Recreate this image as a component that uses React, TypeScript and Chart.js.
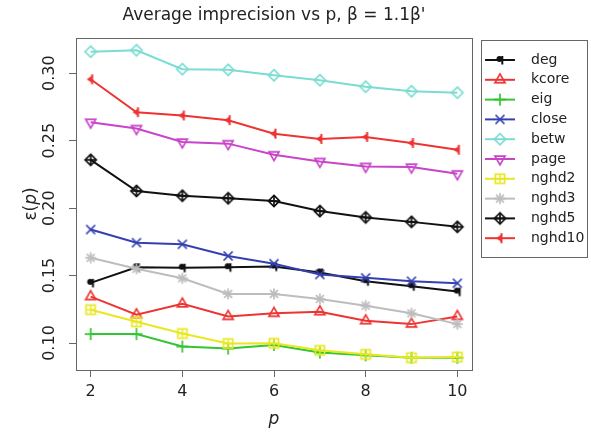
import React, { useEffect, useRef } from "react";
import { Chart, registerables } from "chart.js";

Chart.register(...registerables);

// ---------------- data ----------------
const P_VALUES = [2, 3, 4, 5, 6, 7, 8, 9, 10];
const X_TICKS = [2, 4, 6, 8, 10];
const Y_TICKS = [0.1, 0.15, 0.2, 0.25, 0.3];

const SERIES_NAMES = ["deg", "kcore", "eig", "close", "betw", "page", "nghd2", "nghd3", "nghd5", "nghd10"];

const DEG = [0.1446, 0.1562, 0.1558, 0.1562, 0.1567, 0.1523, 0.1458, 0.1421, 0.1381];
const KCORE = [0.1344, 0.121, 0.129, 0.1197, 0.122, 0.1232, 0.1165, 0.114, 0.1197];
const EIG = [0.1066, 0.1066, 0.0974, 0.0959, 0.0986, 0.0929, 0.0909, 0.0891, 0.0891];
const CLOSE = [0.1841, 0.1744, 0.1732, 0.1645, 0.1588, 0.1508, 0.1483, 0.1458, 0.1443];
const BETW = [0.316, 0.317, 0.303, 0.3025, 0.2985, 0.2948, 0.29, 0.2866, 0.2856];
const PAGE = [0.2637, 0.259, 0.249, 0.2478, 0.2396, 0.2346, 0.2309, 0.2304, 0.2254];
const NGHD2 = [0.1247, 0.1157, 0.107, 0.0996, 0.0998, 0.0946, 0.0916, 0.0891, 0.0896];
const NGHD3 = [0.1632, 0.155, 0.148, 0.1364, 0.1364, 0.1327, 0.1277, 0.122, 0.114];
const NGHD5 = [0.2358, 0.2127, 0.2092, 0.2073, 0.2053, 0.1978, 0.1931, 0.1898, 0.1861];
const NGHD10 = [0.2955, 0.2711, 0.2687, 0.2652, 0.2552, 0.2513, 0.2528, 0.2483, 0.2433];

const SERIES_VALUES = [DEG, KCORE, EIG, CLOSE, BETW, PAGE, NGHD2, NGHD3, NGHD5, NGHD10];

// ---------------- styles ----------------
const COLORS = ["#111111", "#EE3333", "#33C633", "#3440B2", "#7ADCD2", "#C844C8", "#E8E822", "#BDBDBD", "#111111", "#EE3333"];
const MARKERS = ["q", "triUp", "plus", "cross", "diamond", "triDown", "squarePlus", "asterisk", "diamondPlus", "leftTri"];

const FONT = '"DejaVu Sans", "Liberation Sans", sans-serif';
const TITLE = "Average imprecision vs p, \u03B2 = 1.1\u03B2'";

function makeMarker(kind: string, color: string): HTMLCanvasElement {
  const s = 16;
  const c = s / 2;
  const cv = document.createElement("canvas");
  cv.width = s;
  cv.height = s;
  const g = cv.getContext("2d")!;
  g.strokeStyle = color;
  g.fillStyle = color;
  g.lineWidth = 1.7;
  const line = (x1: number, y1: number, x2: number, y2: number) => {
    g.beginPath();
    g.moveTo(x1, y1);
    g.lineTo(x2, y2);
    g.stroke();
  };
  switch (kind) {
    case "q": {
      g.beginPath();
      g.arc(c - 0.5, c - 1, 3, 0, Math.PI * 2);
      g.fill();
      g.lineWidth = 2;
      line(c + 2.3, c - 4, c + 2.3, c + 4.5);
      break;
    }
    case "triUp": {
      const r = 5.8;
      g.beginPath();
      g.moveTo(c, c - r);
      g.lineTo(c + r * 0.866, c + r * 0.5);
      g.lineTo(c - r * 0.866, c + r * 0.5);
      g.closePath();
      g.stroke();
      break;
    }
    case "triDown": {
      const r = 5.8;
      g.beginPath();
      g.moveTo(c, c + r);
      g.lineTo(c + r * 0.866, c - r * 0.5);
      g.lineTo(c - r * 0.866, c - r * 0.5);
      g.closePath();
      g.stroke();
      break;
    }
    case "plus": {
      const r = 6;
      line(c - r, c, c + r, c);
      line(c, c - r, c, c + r);
      break;
    }
    case "cross": {
      const r = 4.5;
      line(c - r, c - r, c + r, c + r);
      line(c - r, c + r, c + r, c - r);
      break;
    }
    case "diamond": {
      const r = 5.6;
      g.beginPath();
      g.moveTo(c, c - r);
      g.lineTo(c + r, c);
      g.lineTo(c, c + r);
      g.lineTo(c - r, c);
      g.closePath();
      g.stroke();
      break;
    }
    case "diamondPlus": {
      const r = 5.6;
      g.beginPath();
      g.moveTo(c, c - r);
      g.lineTo(c + r, c);
      g.lineTo(c, c + r);
      g.lineTo(c - r, c);
      g.closePath();
      g.stroke();
      line(c - r, c, c + r, c);
      line(c, c - r, c, c + r);
      break;
    }
    case "squarePlus": {
      const h = 4.6;
      g.strokeRect(c - h, c - h, 2 * h, 2 * h);
      g.lineWidth = 1.4;
      line(c - h, c, c + h, c);
      line(c, c - h, c, c + h);
      break;
    }
    case "asterisk": {
      const r = 5.5;
      const d = r * 0.72;
      line(c - r, c, c + r, c);
      line(c, c - r, c, c + r);
      line(c - d, c - d, c + d, c + d);
      line(c - d, c + d, c + d, c - d);
      break;
    }
    case "leftTri": {
      g.beginPath();
      g.moveTo(c - 4, c);
      g.lineTo(c + 2, c - 4);
      g.lineTo(c + 2, c + 4);
      g.closePath();
      g.fill();
      g.lineWidth = 2;
      line(c + 1.5, c - 5, c + 1.5, c + 5);
      break;
    }
  }
  return cv;
}

// R-style 4% range extension
function extendRange(values: number[]): [number, number] {
  const lo = Math.min(...values);
  const hi = Math.max(...values);
  const pad = (hi - lo) * 0.04;
  return [lo - pad, hi + pad];
}

export default function App() {
  const canvasRef = useRef<HTMLCanvasElement | null>(null);

  useEffect(() => {
    const canvas = canvasRef.current;
    if (!canvas) return;
    const markers = SERIES_NAMES.map((_, i) => makeMarker(MARKERS[i], COLORS[i]));
    const [xMin, xMax] = extendRange(P_VALUES);
    const [yMin, yMax] = extendRange(SERIES_VALUES.flat());

    const decorPlugin = {
      id: "decor",
      afterDraw(chart: any) {
        const ctx = chart.ctx as CanvasRenderingContext2D;
        const area = chart.chartArea;
        const yScale = chart.scales.y;
        ctx.save();
        // plot box
        ctx.strokeStyle = "#666";
        ctx.lineWidth = 1;
        ctx.strokeRect(Math.round(area.left) + 0.5, Math.round(area.top) + 0.5, Math.round(area.right - area.left), Math.round(area.bottom - area.top));

        // title
        ctx.fillStyle = "#222";
        ctx.font = `17px ${FONT}`;
        ctx.textAlign = "center";
        ctx.textBaseline = "middle";
        ctx.fillText(TITLE, (area.left + area.right) / 2, 16);

        // y tick labels (rotated, R style)
        ctx.font = `16px ${FONT}`;
        Y_TICKS.forEach((v) => {
          const py = yScale.getPixelForValue(v);
          ctx.save();
          ctx.translate(50, py);
          ctx.rotate(-Math.PI / 2);
          ctx.textAlign = "center";
          ctx.textBaseline = "middle";
          ctx.fillText(v.toFixed(2), 0, 0);
          ctx.restore();
        });

        // x axis title (italic p)
        ctx.font = `italic 17px ${FONT}`;
        ctx.textAlign = "center";
        ctx.textBaseline = "middle";
        ctx.fillText("p", (area.left + area.right) / 2, 420);

        // y axis title  ε(p)
        ctx.save();
        ctx.translate(32, (area.top + area.bottom) / 2);
        ctx.rotate(-Math.PI / 2);
        ctx.textBaseline = "middle";
        ctx.textAlign = "left";
        const parts: [string, string][] = [
          ["\u03B5(", `17px ${FONT}`],
          ["p", `italic 17px ${FONT}`],
          [")", `17px ${FONT}`],
        ];
        let total = 0;
        parts.forEach(([t, f]) => {
          ctx.font = f;
          total += ctx.measureText(t).width;
        });
        let xx = -total / 2;
        parts.forEach(([t, f]) => {
          ctx.font = f;
          ctx.fillText(t, xx, 0);
          xx += ctx.measureText(t).width;
        });
        ctx.restore();

        // legend
        const lx = 481.5, ly = 40.5, lw = 106, lh = 217;
        ctx.strokeStyle = "#666";
        ctx.lineWidth = 1;
        ctx.strokeRect(lx, ly, lw, lh);
        ctx.font = `14px ${FONT}`;
        ctx.textAlign = "left";
        ctx.textBaseline = "middle";
        SERIES_NAMES.forEach((name, i) => {
          const y = 60 + i * 19.8;
          ctx.strokeStyle = COLORS[i];
          ctx.lineWidth = 2;
          ctx.beginPath();
          ctx.moveTo(485, y);
          ctx.lineTo(515, y);
          ctx.stroke();
          const m = markers[i];
          ctx.drawImage(m, 500 - m.width / 2, y - m.height / 2);
          ctx.fillStyle = "#222";
          ctx.fillText(name, 531, y);
        });
        ctx.restore();
      },
    };

    const chart = new Chart(canvas, {
      type: "line",
      data: {
        datasets: SERIES_NAMES.map((name, i) => ({
          label: name,
          data: P_VALUES.map((p, j) => ({ x: p, y: SERIES_VALUES[i][j] })),
          borderColor: COLORS[i],
          backgroundColor: COLORS[i],
          borderWidth: 2,
          pointStyle: markers[i] as any,
          pointRadius: 5,
          tension: 0,
          fill: false,
          order: SERIES_NAMES.length - i,
        })),
      },
      options: {
        responsive: false,
        animation: false,
        events: [],
        layout: { padding: { left: 0, top: 38, right: 119, bottom: 0 } },
        plugins: {
          legend: { display: false },
          title: { display: false },
          tooltip: { enabled: false },
        },
        scales: {
          x: {
            type: "linear",
            min: xMin,
            max: xMax,
            afterBuildTicks: (s: any) => {
              s.ticks = X_TICKS.map((v) => ({ value: v }));
            },
            afterFit: (s: any) => {
              s.height = 64;
            },
            border: { display: false },
            grid: { drawOnChartArea: false, drawTicks: true, tickLength: 7, color: "#666", lineWidth: 1 },
            ticks: {
              font: { family: FONT, size: 16 },
              color: "#222",
              padding: 5,
              maxRotation: 0,
              autoSkip: false,
              callback: (v: any) => String(v),
            },
          },
          y: {
            type: "linear",
            min: yMin,
            max: yMax,
            afterBuildTicks: (s: any) => {
              s.ticks = Y_TICKS.map((v) => ({ value: v }));
            },
            afterFit: (s: any) => {
              s.width = 76;
            },
            border: { display: false },
            grid: { drawOnChartArea: false, drawTicks: true, tickLength: 7, color: "#666", lineWidth: 1 },
            ticks: { display: false },
          },
        },
      },
      plugins: [decorPlugin],
    });

    return () => chart.destroy();
  }, []);

  return (
    <div style={{ position: "fixed", left: 0, top: 0, width: 591, height: 434, background: "#fff" }}>
      <canvas ref={canvasRef} width={591} height={434} />
    </div>
  );
}
